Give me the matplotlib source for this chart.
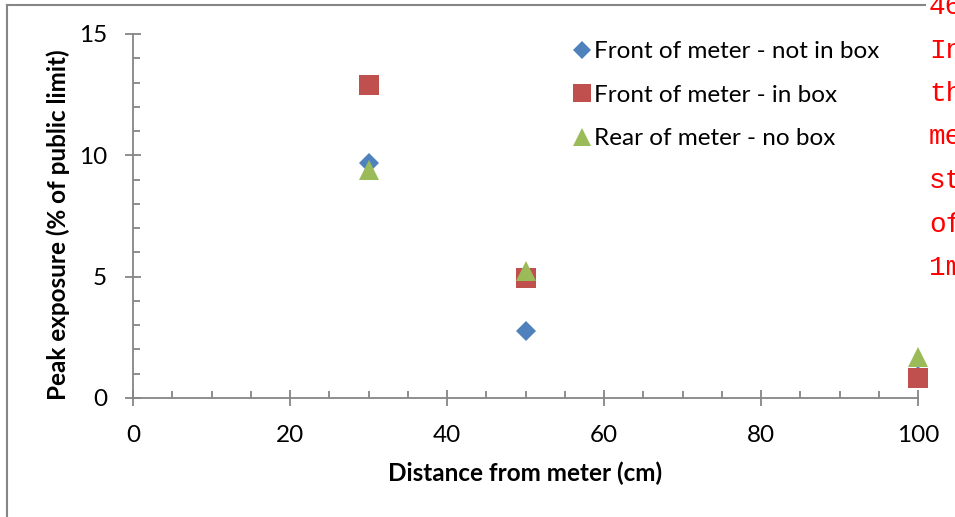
"""Peak exposure vs distance from meter."""

import numpy as np
import matplotlib
matplotlib.use('Agg')
import matplotlib.pyplot as plt
from matplotlib.ticker import MultipleLocator
from matplotlib.lines import Line2D

plt.rcParams['font.family'] = ['Lato', 'DejaVu Sans']

# data
distance = [30, 50, 100]
front_not_in_box = [9.7, 2.75, 0.9]
front_in_box = [12.9, 4.95, 0.82]
rear_no_box = [9.4, 5.25, 1.68]

series_labels = ['Front of meter - not in box',
                 'Front of meter - in box',
                 'Rear of meter - no box']

# clipped fragment of the neighbouring text
side_text = ['46', 'In', 'th', 'me', 'st', 'of', '1m']

axis_grey = '#868686'

fig = plt.figure(figsize=(9.55, 5.17), dpi=100)
fig.patch.set_facecolor('white')
ax = fig.add_axes([133/955, 1 - 398/517, 785/955, 364/517])

ax.plot(distance, front_not_in_box, linestyle='none', marker='D',
        markersize=10, color='#4F81BD', markeredgewidth=0, clip_on=False)
ax.plot(distance, front_in_box, linestyle='none', marker='s',
        markersize=14.5, color='#C0504D', markeredgewidth=0, clip_on=False)
ax.plot(distance, rear_no_box, linestyle='none', marker='^',
        markersize=14.5, color='#9BBB59', markeredgewidth=0, clip_on=False)

ax.set_xlim(0, 100)
ax.set_ylim(0, 15)
ax.xaxis.set_major_locator(MultipleLocator(20))
ax.xaxis.set_minor_locator(MultipleLocator(5))
ax.yaxis.set_major_locator(MultipleLocator(5))
ax.yaxis.set_minor_locator(MultipleLocator(1))

for side in ['top', 'right']:
    ax.spines[side].set_visible(False)
for side in ['left', 'bottom']:
    ax.spines[side].set_color(axis_grey)
    ax.spines[side].set_linewidth(1.3)

ax.tick_params(which='major', direction='inout', length=11.5, width=1.3,
               color=axis_grey, labelsize=17.5, labelcolor='black')
ax.tick_params(which='minor', direction='in', length=5, width=1.3,
               color=axis_grey)
ax.tick_params(axis='y', which='major', pad=13)
ax.tick_params(axis='x', which='major', pad=14)

ax.set_xlabel('Distance from meter (cm)', fontsize=17.5, fontweight='bold',
              labelpad=11)
ax.set_ylabel('Peak exposure (% of public limit)', fontsize=17.5,
              fontweight='bold', labelpad=6)
ax.yaxis.label.set_y(0.475)

handles = [
    Line2D([], [], linestyle='none', marker='D', markersize=9,
           color='#4F81BD', markeredgewidth=0),
    Line2D([], [], linestyle='none', marker='s', markersize=13,
           color='#C0504D', markeredgewidth=0),
    Line2D([], [], linestyle='none', marker='^', markersize=13,
           color='#9BBB59', markeredgewidth=0),
]
ax.legend(handles, series_labels, loc='upper left',
          bbox_to_anchor=(575/955, 1 - 41/517), bbox_transform=fig.transFigure,
          frameon=False, fontsize=17.5, handlelength=0.6, handletextpad=0.2,
          labelspacing=0.93, borderaxespad=0, borderpad=0)

# chart frame
fig.add_artist(Line2D([7/955, 7/955], [0, 1 - 5/517], color=axis_grey,
                      linewidth=1.5, transform=fig.transFigure))
fig.add_artist(Line2D([7/955, 925/955], [1 - 5/517, 1 - 5/517],
                      color=axis_grey, linewidth=1.5, transform=fig.transFigure))

for i, frag in enumerate(side_text):
    fig.text(929/955, 1 - (14 + 43.5*i)/517, frag, color='red',
             family='Liberation Mono', fontsize=20, ha='left', va='baseline')

fig.savefig('out.png', dpi=100)
